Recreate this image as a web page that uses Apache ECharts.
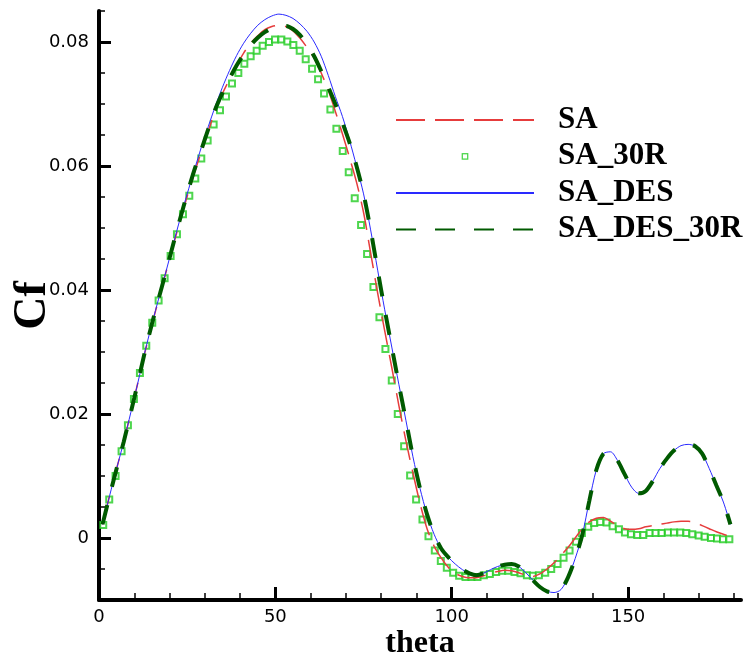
<!DOCTYPE html>
<html><head><meta charset="utf-8">
<script src="https://cdn.jsdelivr.net/npm/echarts@6/dist/echarts.min.js"></script>
<style>html,body{margin:0;padding:0;background:#fff}#c{width:749px;height:662px}</style>
</head><body><div id="c"></div>
<script>
const thetaLine = [1,3,5,7,9,11,13,15,17,19,21,23,25,27,29,31,33,35,37,39,41,43,45,47,49,51,53,55,57,59,61,63,65,67,69,71,73,75,77,79,81,83,85,87,89,91,93,95,97,99,101,103,105,107,109,111,113,115,117,119,121,123,125,127,129,131,133,135,137,139,141,143,145,147,149,151,153,155,157,159,161,163,165,167,169,171,173,175,177,179];
const saVals = [0.0022,0.0068,0.0112,0.0155,0.0202,0.0250,0.0299,0.0344,0.0387,0.0429,0.0471,0.0512,0.0551,0.0588,0.0623,0.0657,0.0690,0.0717,0.0740,0.0762,0.0782,0.0798,0.0810,0.0820,0.0825,0.0827,0.0825,0.0818,0.0806,0.0791,0.0774,0.0750,0.0722,0.0688,0.0652,0.0614,0.0574,0.0525,0.0460,0.0395,0.0334,0.0275,0.0214,0.0157,0.0105,0.0056,0.0015,-0.0013,-0.0032,-0.0047,-0.0057,-0.0062,-0.0064,-0.0064,-0.0061,-0.0057,-0.0054,-0.0052,-0.0053,-0.0056,-0.0060,-0.0062,-0.0058,-0.0050,-0.0040,-0.0028,-0.0015,0.0000,0.0015,0.0026,0.0032,0.0033,0.0027,0.0020,0.0015,0.0014,0.0015,0.0018,0.0020,0.0022,0.0024,0.0026,0.0027,0.0027,0.0025,0.0020,0.0015,0.0010,0.0006,0.0003];
const saDesVals = [0.0022,0.0068,0.0112,0.0155,0.0202,0.0250,0.0300,0.0345,0.0388,0.0430,0.0473,0.0515,0.0555,0.0593,0.0630,0.0664,0.0697,0.0727,0.0754,0.0778,0.0798,0.0814,0.0827,0.0836,0.0842,0.0845,0.0843,0.0838,0.0829,0.0817,0.0800,0.0777,0.0746,0.0712,0.0680,0.0642,0.0600,0.0555,0.0497,0.0432,0.0368,0.0308,0.0248,0.0190,0.0131,0.0080,0.0038,0.0006,-0.0017,-0.0031,-0.0042,-0.0051,-0.0057,-0.0060,-0.0057,-0.0051,-0.0046,-0.0043,-0.0042,-0.0046,-0.0056,-0.0068,-0.0079,-0.0086,-0.0088,-0.0083,-0.0063,-0.0033,0.0005,0.0060,0.0110,0.0136,0.0139,0.0125,0.0103,0.0082,0.0072,0.0076,0.0092,0.0112,0.0128,0.0141,0.0149,0.0151,0.0148,0.0136,0.0112,0.0085,0.0058,0.0022];
const saDes30Vals = [0.0022,0.0068,0.0112,0.0155,0.0202,0.0250,0.0300,0.0345,0.0388,0.0430,0.0473,0.0515,0.0555,0.0593,0.0626,0.0660,0.0692,0.0718,0.0741,0.0762,0.0780,0.0795,0.0807,0.0816,0.0822,0.0826,0.0826,0.0821,0.0811,0.0796,0.0777,0.0753,0.0727,0.0700,0.0670,0.0638,0.0600,0.0555,0.0497,0.0432,0.0368,0.0308,0.0248,0.0190,0.0131,0.0080,0.0038,0.0006,-0.0017,-0.0031,-0.0042,-0.0051,-0.0057,-0.0060,-0.0057,-0.0051,-0.0046,-0.0043,-0.0042,-0.0046,-0.0056,-0.0068,-0.0079,-0.0086,-0.0088,-0.0083,-0.0063,-0.0033,0.0005,0.0060,0.0110,0.0136,0.0139,0.0125,0.0103,0.0082,0.0072,0.0076,0.0092,0.0112,0.0128,0.0141,0.0149,0.0151,0.0148,0.0136,0.0112,0.0085,0.0058,0.0022];
const theta30R = [1.2,2.9,4.7,6.4,8.2,9.9,11.6,13.4,15.1,16.9,18.6,20.3,22.1,23.8,25.6,27.3,29.0,30.8,32.5,34.3,36.0,37.7,39.5,41.2,43.0,44.7,46.4,48.2,49.9,51.7,53.4,55.1,56.9,58.6,60.4,62.1,63.8,65.6,67.3,69.1,70.8,72.5,74.3,76.0,77.8,79.5,81.2,83.0,84.7,86.5,88.2,89.9,91.7,93.4,95.2,96.9,98.6,100.4,102.1,103.9,105.6,107.3,109.1,110.8,112.6,114.3,116.0,117.8,119.5,121.3,123.0,124.7,126.5,128.2,130.0,131.7,133.4,135.2,136.9,138.7,140.4,142.1,143.9,145.6,147.4,149.1,150.8,152.6,154.3,156.1,157.8,159.5,161.3,163.0,164.8,166.5,168.2,170.0,171.7,173.5,175.2,176.9,178.7];
const sa30Vals = [0.0021,0.0062,0.0100,0.0140,0.0182,0.0224,0.0266,0.0310,0.0347,0.0383,0.0419,0.0455,0.0490,0.0522,0.0552,0.0580,0.0612,0.0641,0.0667,0.0690,0.0712,0.0733,0.0750,0.0765,0.0777,0.0786,0.0794,0.0800,0.0804,0.0804,0.0801,0.0795,0.0786,0.0772,0.0757,0.0740,0.0717,0.0691,0.0660,0.0624,0.0590,0.0548,0.0505,0.0458,0.0405,0.0356,0.0305,0.0254,0.0200,0.0148,0.0101,0.0062,0.0030,0.0003,-0.0020,-0.0037,-0.0048,-0.0056,-0.0061,-0.0063,-0.0063,-0.0063,-0.0060,-0.0058,-0.0055,-0.0053,-0.0053,-0.0055,-0.0057,-0.0060,-0.0061,-0.0060,-0.0056,-0.0050,-0.0042,-0.0032,-0.0020,-0.0006,0.0008,0.0018,0.0024,0.0026,0.0025,0.0019,0.0014,0.0009,0.0006,0.0005,0.0005,0.0008,0.0008,0.0008,0.0009,0.0009,0.0009,0.0008,0.0006,0.0004,0.0002,0.0000,-0.0001,-0.0002,-0.0002];
const xMajorTicks = [0,50,100,150];
const xMinorTicks = [10,20,30,40,60,70,80,90,110,120,130,140,160,170,180];
const yMajorTicks = [0,0.02,0.04,0.06,0.08];
const yMinorTicks = [-0.005,0.005,0.01,0.015,0.025,0.03,0.035,0.045,0.05,0.055,0.065,0.07,0.075,0.085];
const seriesNames = ['SA','SA_30R','SA_DES','SA_DES_30R'];

const zip = (xs, ys) => xs.map((x, i) => [x, ys[i]]);
const chart = echarts.init(document.getElementById('c'), null, {renderer: 'canvas'});
const GRID = {left: 99, right: 8, top: 11, bottom: 62, outerBoundsMode: 'none', containLabel: false};
const tickFont = {fontFamily: 'DejaVu Sans', fontSize: 18, color: '#000'};
const hiddenSym = {color: 'rgba(0,0,0,0)', borderColor: 'rgba(0,0,0,0)', borderWidth: 0, opacity: 0};
const scatterGreen = '#22cc22';
const squareIcon = 'image://data:image/svg+xml;charset=utf-8,' + encodeURIComponent(
  "<svg xmlns='http://www.w3.org/2000/svg' width='138' height='8' viewBox='0 0 138 8'>" +
  "<rect x='66.3' y='1.3' width='5.4' height='5.4' fill='#fff' stroke='" + scatterGreen + "' stroke-width='1.3'/></svg>");
chart.setOption({
  animation: false,
  backgroundColor: '#fff',
  grid: [Object.assign({}, GRID), Object.assign({}, GRID)],
  legend: {
    orient: 'vertical', left: 395, top: 104.4, padding: 0,
    itemWidth: 138, itemHeight: 8, itemGap: 5.5,
    selectedMode: false,
    textStyle: {fontFamily: 'Liberation Serif', fontWeight: 'bold', fontSize: 31, lineHeight: 28, color: '#000', padding: [0, 0, 0, 19]},
    data: [
      {name: seriesNames[0], itemStyle: hiddenSym},
      {name: seriesNames[1], icon: squareIcon},
      {name: seriesNames[2], itemStyle: hiddenSym},
      {name: seriesNames[3], itemStyle: hiddenSym}
    ]
  },
  xAxis: [{
    gridIndex: 0, type: 'value', min: 0, max: 182, interval: 10, position: 'bottom',
    axisLine: {onZero: false, lineStyle: {color: '#000', width: 4}},
    axisTick: {inside: true, length: 13, lineStyle: {color: '#000', width: 3}, customValues: xMajorTicks},
    axisLabel: Object.assign({customValues: xMajorTicks, margin: 8}, tickFont),
    splitLine: {show: false},
    name: 'theta', nameLocation: 'middle', nameGap: 28, nameMoveOverlap: false,
    nameTextStyle: {fontFamily: 'Liberation Serif', fontWeight: 'bold', fontSize: 32, color: '#000'}
  }, {
    gridIndex: 1, type: 'value', min: 0, max: 182, interval: 10, position: 'bottom',
    axisLine: {show: false, onZero: false},
    axisTick: {inside: true, length: 7, lineStyle: {color: '#000', width: 1.5}, customValues: xMinorTicks},
    axisLabel: {show: false}, splitLine: {show: false}
  }],
  yAxis: [{
    gridIndex: 0, type: 'value', min: -0.01, max: 0.085, interval: 0.005, position: 'left',
    axisLine: {onZero: false, lineStyle: {color: '#000', width: 4}},
    axisTick: {inside: true, length: 12, lineStyle: {color: '#000', width: 3}, customValues: yMajorTicks},
    axisLabel: Object.assign({customValues: yMajorTicks, margin: 10,
      formatter: v => (Math.abs(v) < 1e-9 ? '0' : v.toFixed(2))}, tickFont),
    splitLine: {show: false},
    name: 'Cf', nameLocation: 'middle', nameGap: 43, nameMoveOverlap: false,
    nameTextStyle: {fontFamily: 'Liberation Serif', fontWeight: 'bold', fontSize: 46, color: '#000'}
  }, {
    gridIndex: 1, type: 'value', min: -0.01, max: 0.085, interval: 0.005, position: 'left',
    axisLine: {show: false, onZero: false},
    axisTick: {inside: true, length: 6, lineStyle: {color: '#000', width: 1.5}, customValues: yMinorTicks},
    axisLabel: {show: false}, splitLine: {show: false}
  }],
  series: [{
    name: seriesNames[0], type: 'line', data: zip(thetaLine, saVals), smooth: 0.3,
    symbol: 'none', color: '#e63c3c',
    lineStyle: {color: '#e63c3c', width: 1.5, type: [29, 10]}
  }, {
    name: seriesNames[1], type: 'scatter', data: zip(theta30R, sa30Vals),
    symbol: 'emptyRect', symbolSize: 6, color: scatterGreen,
    itemStyle: {color: scatterGreen, borderColor: scatterGreen, borderWidth: 1.3}
  }, {
    name: seriesNames[2], type: 'line', data: zip(thetaLine, saDesVals), smooth: 0.3,
    symbol: 'none', color: '#2a2aff',
    lineStyle: {color: '#2a2aff', width: 1}
  }, {
    name: seriesNames[3], type: 'line', data: zip(thetaLine, saDes30Vals), smooth: 0.3,
    symbol: 'none', color: '#005a00',
    lineStyle: {color: '#005a00', width: 4, type: [20, 19]}
  }]
});
</script></body></html>
